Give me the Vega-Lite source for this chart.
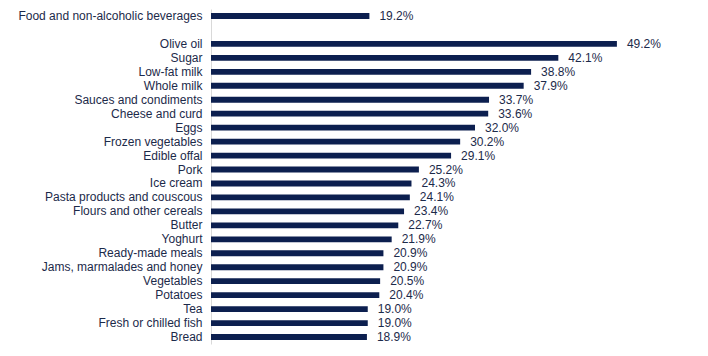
{
  "$schema": "https://vega.github.io/schema/vega-lite/v6.json",
  "width": 495,
  "height": 335,
  "autosize": {"type": "none"},
  "padding": {"left": 211, "top": 9, "right": 2, "bottom": 12},
  "background": "white",
  "config": {"view": {"stroke": null}, "font": "Liberation Sans"},
  "data": {"values": [
    {"item": "Food and non-alcoholic beverages", "value": 19.2, "label": "19.2%"},
    {"item": "Olive oil", "value": 49.2, "label": "49.2%"},
    {"item": "Sugar", "value": 42.1, "label": "42.1%"},
    {"item": "Low-fat milk", "value": 38.8, "label": "38.8%"},
    {"item": "Whole milk", "value": 37.9, "label": "37.9%"},
    {"item": "Sauces and condiments", "value": 33.7, "label": "33.7%"},
    {"item": "Cheese and curd", "value": 33.6, "label": "33.6%"},
    {"item": "Eggs\u00a0", "value": 32.0, "label": "32.0%"},
    {"item": "Frozen vegetables\u00a0", "value": 30.2, "label": "30.2%"},
    {"item": "Edible offal", "value": 29.1, "label": "29.1%"},
    {"item": "Pork", "value": 25.2, "label": "25.2%"},
    {"item": "Ice cream", "value": 24.3, "label": "24.3%"},
    {"item": "Pasta products and couscous\u00a0", "value": 24.1, "label": "24.1%"},
    {"item": "Flours and other cereals\u00a0", "value": 23.4, "label": "23.4%"},
    {"item": "Butter", "value": 22.7, "label": "22.7%"},
    {"item": "Yoghurt", "value": 21.9, "label": "21.9%"},
    {"item": "Ready-made meals", "value": 20.9, "label": "20.9%"},
    {"item": "Jams, marmalades and honey", "value": 20.9, "label": "20.9%"},
    {"item": "Vegetables", "value": 20.5, "label": "20.5%"},
    {"item": "Potatoes", "value": 20.4, "label": "20.4%"},
    {"item": "Tea", "value": 19.0, "label": "19.0%"},
    {"item": "Fresh or chilled fish", "value": 19.0, "label": "19.0%"},
    {"item": "Bread", "value": 18.9, "label": "18.9%"}
  ]},
  "encoding": {
    "y": {
      "field": "item",
      "type": "nominal",
      "scale": {
        "domain": ["Food and non-alcoholic beverages", "  ", "Olive oil", "Sugar", "Low-fat milk", "Whole milk", "Sauces and condiments", "Cheese and curd", "Eggs\u00a0", "Frozen vegetables\u00a0", "Edible offal", "Pork", "Ice cream", "Pasta products and couscous\u00a0", "Flours and other cereals\u00a0", "Butter", "Yoghurt", "Ready-made meals", "Jams, marmalades and honey", "Vegetables", "Potatoes", "Tea", "Fresh or chilled fish", "Bread"],
        "paddingInner": 0.58,
        "paddingOuter": 0.29
      },
      "axis": {
        "title": null,
        "ticks": false,
        "domain": true,
        "domainColor": "#d9d9d9",
        "domainWidth": 1,
        "labelPadding": 9,
        "labelFont": "Liberation Sans",
        "labelFontSize": 12,
        "labelColor": "#1c2a4a",
        "labelLimit": 0,
        "grid": false
      }
    },
    "x": {
      "field": "value",
      "type": "quantitative",
      "scale": {"domain": [0, 60], "nice": false},
      "axis": null
    }
  },
  "layer": [
    {"mark": {"type": "bar", "color": "#0c1f4f"}},
    {
      "mark": {"type": "text", "align": "left", "baseline": "middle", "dx": 10, "font": "Liberation Sans", "fontSize": 12, "color": "#1c2a4a"},
      "encoding": {"text": {"field": "label"}}
    }
  ]
}
